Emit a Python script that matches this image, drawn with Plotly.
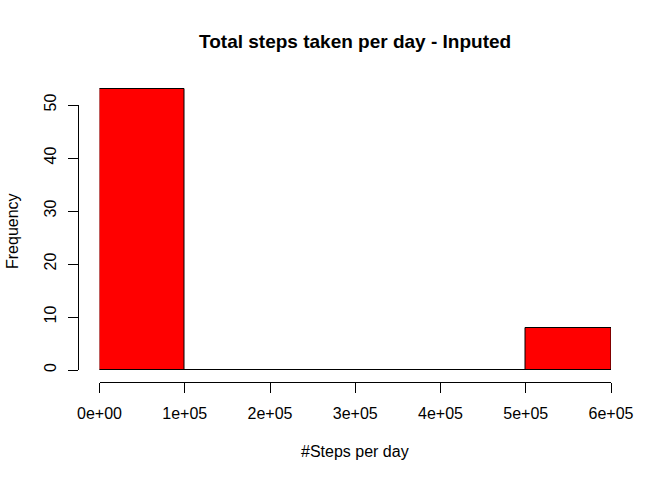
import plotly.graph_objects as go

# Data
bin_edges = [0, 100000, 200000, 300000, 400000, 500000, 600000]
counts = [53, 0, 0, 0, 0, 8]
x_ticks = [0, 100000, 200000, 300000, 400000, 500000, 600000]
x_tick_labels = ["0e+00", "1e+05", "2e+05", "3e+05", "4e+05", "5e+05", "6e+05"]
y_ticks = [0, 10, 20, 30, 40, 50]
y_tick_labels = ["0", "10", "20", "30", "40", "50"]

title = "Total steps taken per day - Inputed"
x_title = "#Steps per day"
y_title = "Frequency"

W, H = 672, 480
OFF = 0  # body margin removed via post_script
FONT = "Liberation Sans, Arial, sans-serif"


def px(v):
    return (v - OFF) / W


def py(v):
    return (H - (v - OFF)) / H


centers = [(a + b) / 2 for a, b in zip(bin_edges[:-1], bin_edges[1:])]
widths = [b - a for a, b in zip(bin_edges[:-1], bin_edges[1:])]

fig = go.Figure()
# zero-height bins in R are drawn as a line along the baseline
fig.add_trace(go.Scatter(
    x=[bin_edges[0], bin_edges[-1]], y=[0, 0], mode="lines",
    line=dict(color="black", width=1), hoverinfo="skip", showlegend=False,
    xaxis="x", yaxis="y"))
fig.add_trace(go.Bar(
    x=centers, y=counts, width=widths,
    marker=dict(color="#FF0000", line=dict(color="black", width=1)),
    showlegend=False, xaxis="x", yaxis="y"))
fig.add_trace(go.Scatter(
    x=[0], y=[0], mode="markers", marker=dict(opacity=0),
    hoverinfo="skip", showlegend=False, xaxis="x", yaxis="y2"))

px_per_unit = 265 / 50.0
y_bottom_px = 370
y_top_px = 80

fig.update_layout(
    width=W, height=H, autosize=False,
    margin=dict(l=0, r=0, t=0, b=0, pad=0, autoexpand=False),
    paper_bgcolor="white", plot_bgcolor="rgba(0,0,0,0)",
    font=dict(family=FONT, size=16, color="black"),
    xaxis=dict(
        domain=[px(99.5), px(611)], range=[0, 600000],
        anchor="free", position=py(382), automargin=False,
        showgrid=False, zeroline=False,
        showline=True, linecolor="black", linewidth=1,
        ticks="outside", ticklen=10, tickwidth=1, tickcolor="black",
        ticklabelstandoff=7,
        tickvals=x_ticks, ticktext=x_tick_labels,
        tickfont=dict(size=16, family=FONT, color="black"),
    ),
    yaxis=dict(
        domain=[py(y_bottom_px), py(y_top_px)],
        range=[0, (y_bottom_px - y_top_px) / px_per_unit],
        visible=False, showgrid=False, zeroline=False, automargin=False,
    ),
    yaxis2=dict(
        domain=[py(370), py(105)], range=[0, 50],
        anchor="free", position=px(78), automargin=False,
        showgrid=False, zeroline=False,
        showline=True, linecolor="black", linewidth=1,
        ticks="outside", ticklen=10, tickwidth=1, tickcolor="black",
        ticklabelstandoff=6,
        tickvals=y_ticks, ticktext=y_tick_labels, tickangle=-90,
        tickfont=dict(size=16, family=FONT, color="black"),
    ),
    bargap=0,
    annotations=[
        dict(text="<b>" + title + "</b>", x=px(355), y=py(41),
             xref="paper", yref="paper", showarrow=False,
             xanchor="center", yanchor="middle",
             font=dict(size=19, family=FONT, color="black")),
        dict(text=x_title, x=px(355), y=py(451),
             xref="paper", yref="paper", showarrow=False,
             xanchor="center", yanchor="middle",
             font=dict(size=16, family=FONT, color="black")),
        dict(text=y_title, x=px(13), y=py(231), textangle=-90,
             xref="paper", yref="paper", showarrow=False,
             xanchor="center", yanchor="middle",
             font=dict(size=16, family=FONT, color="black")),
    ],
)

fig.write_html("out.html",
               config={"displayModeBar": False},
               post_script="document.body.style.margin='0';document.body.style.overflow='hidden';")
